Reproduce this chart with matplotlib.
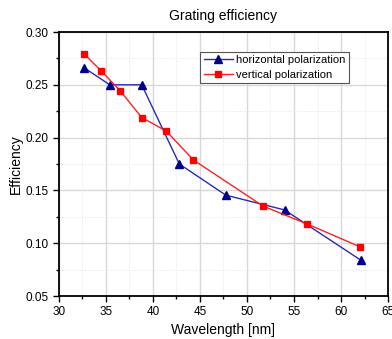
import matplotlib
matplotlib.use("Agg")
import matplotlib.pyplot as plt
from matplotlib.ticker import MultipleLocator

plt.rcParams['font.family'] = ['Liberation Sans', 'DejaVu Sans']

h_x = [32.7, 35.4, 38.8, 42.8, 47.75, 54.0, 62.1]
h_y = [0.266, 0.250, 0.250, 0.175, 0.1455, 0.1315, 0.084]
v_x = [32.7, 34.45, 36.5, 38.8, 41.4, 44.3, 51.7, 56.4, 62.0]
v_y = [0.279, 0.2635, 0.2445, 0.219, 0.2063, 0.1788, 0.1352, 0.1182, 0.0967]

fig = plt.figure(figsize=(3.92, 3.39), dpi=100)
ax = fig.add_axes([0.1505, 0.1268, 0.8393, 0.7788])

ax.plot(h_x, h_y, color='#2a2ab8', lw=1.0, marker='^', markersize=5.5,
        markerfacecolor='#00008b', markeredgecolor='#00008b', label='horizontal polarization', zorder=3)
ax.plot(v_x, v_y, color='#ff2020', lw=1.0, marker='s', markersize=5,
        markerfacecolor='#ff0000', markeredgecolor='#ff0000', label='vertical polarization', zorder=3)

ax.set_xlim(30, 65)
ax.set_ylim(0.05, 0.30)
ax.xaxis.set_major_locator(MultipleLocator(5))
ax.xaxis.set_minor_locator(MultipleLocator(2.5))
ax.yaxis.set_major_locator(MultipleLocator(0.05))
ax.yaxis.set_minor_locator(MultipleLocator(0.025))
ax.set_yticklabels([f"{v:.2f}" for v in ax.get_yticks()])

ax.grid(which='major', color='#d8d8d8', lw=1.0, ls='-')
ax.grid(which='minor', color='#e4e4e4', lw=0.7, ls=':')
ax.set_axisbelow(True)

for s in ax.spines.values():
    s.set_linewidth(1.3)
ax.tick_params(which='both', direction='out', top=False, right=False, labelsize=8.5)
ax.tick_params(which='major', length=4, width=1.0)
ax.tick_params(which='minor', length=2.5, width=1.0)

ax.set_xlabel('Wavelength [nm]', fontsize=10, labelpad=3)
ax.set_ylabel('Efficiency', fontsize=10, labelpad=2)
ax.set_title('Grating efficiency', fontsize=10, pad=9)

leg = ax.legend(loc='upper left', bbox_to_anchor=(0.43, 0.925), fontsize=8,
                frameon=True, fancybox=False, edgecolor='#555555', framealpha=1,
                borderpad=0.3, handlelength=2.6, handletextpad=0.3, labelspacing=0.45,
                borderaxespad=0)
leg.get_frame().set_linewidth(0.8)

fig.savefig('out.png', dpi=100)
